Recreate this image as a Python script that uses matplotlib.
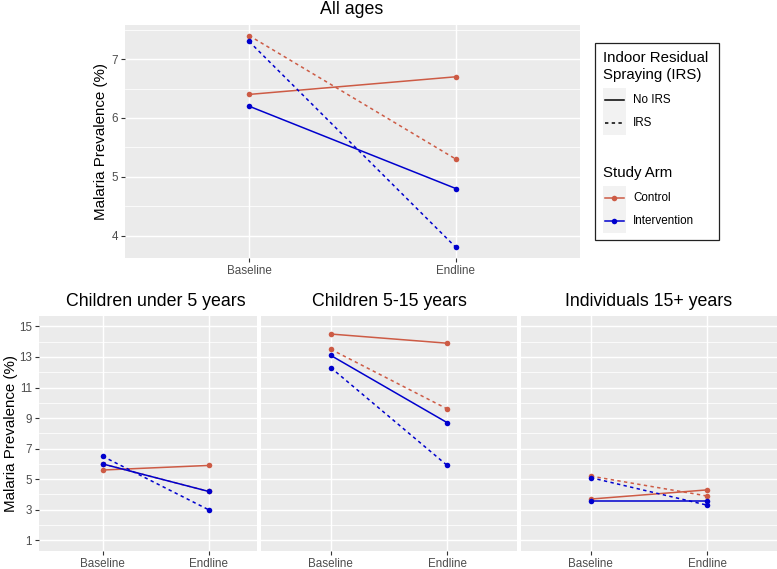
import matplotlib
matplotlib.use("Agg")
import matplotlib.pyplot as plt
from matplotlib.lines import Line2D
from matplotlib.patches import Rectangle

plt.rcParams['font.family'] = ['Liberation Sans', 'DejaVu Sans']

# ---------------- data ----------------
panel_titles = ["All ages", "Children under 5 years", "Children 5-15 years", "Individuals 15+ years"]
timepoints = ["Baseline", "Endline"]
arms = ["Control", "Intervention"]
irs_labels = ["No IRS", "IRS"]

control_no_irs = [[6.4, 6.7], [5.6, 5.9], [14.5, 13.9], [3.7, 4.3]]
control_irs = [[7.4, 5.3], [6.0, 4.2], [13.5, 9.6], [5.2, 3.9]]
intervention_no_irs = [[6.2, 4.8], [6.0, 4.2], [13.1, 8.7], [3.6, 3.6]]
intervention_irs = [[7.3, 3.8], [6.5, 3.0], [12.3, 5.9], [5.1, 3.3]]

top_yticks = [4, 5, 6, 7]
bottom_yticks = [1, 3, 5, 7, 9, 11, 13, 15]

# ---------------- style ----------------
W, H = 777, 569
DPI = 100
col_control = '#CD5B45'
col_interv = '#0000CD'
panel_bg = '#EBEBEB'
tick_col = '#4D4D4D'
LW = 1.1
MS = 4.0
DASH = (0, (2.2, 2.2))

series = [
    (control_no_irs, col_control, '-'),
    (control_irs, col_control, DASH),
    (intervention_no_irs, col_interv, '-'),
    (intervention_irs, col_interv, DASH),
]

fig = plt.figure(figsize=(W / DPI, H / DPI), dpi=DPI)


def px_axes(left, top, right, bottom):
    return fig.add_axes([left / W, 1 - bottom / H, (right - left) / W, (bottom - top) / H])


def style_axes(ax, yticks, minor, show_y=True):
    ax.set_facecolor(panel_bg)
    for s in ax.spines.values():
        s.set_visible(False)
    ax.set_yticks(yticks)
    ax.set_yticks(minor, minor=True)
    ax.set_xticks([0, 1])
    ax.set_xticklabels(timepoints)
    ax.grid(True, which='major', color='white', linewidth=1.07)
    ax.grid(True, which='minor', axis='y', color='white', linewidth=0.55)
    ax.set_axisbelow(True)
    ax.tick_params(axis='both', which='major', length=2.75, width=0.8, color='#333333',
                   labelcolor=tick_col, labelsize=8.4, pad=2.2)
    ax.tick_params(axis='y', which='minor', length=0)
    if not show_y:
        ax.tick_params(axis='y', which='major', length=0, labelleft=False)


def draw(ax, idx):
    x = list(range(len(timepoints)))
    for vals, c, ls in series:
        ax.plot(x, vals[idx], color=c, linestyle=ls, linewidth=LW, zorder=3)
    for vals, c, ls in series:
        ax.plot(x, vals[idx], color=c, linestyle='none', marker='o', markersize=MS,
                markeredgewidth=0, zorder=4)


# ---------------- top panel ----------------
ax0 = px_axes(125, 25, 580, 258)
draw(ax0, 0)
ax0.set_xlim(-0.6, 1.6)
ax0.set_ylim(3.62, 7.58)
style_axes(ax0, top_yticks, [4.5, 5.5, 6.5, 7.5])
ax0.set_ylabel("Malaria Prevalence (%)", fontsize=10.9, color='black')
ax0.yaxis.set_label_coords((107.5 - 125) / 455.0, 0.5)
fig.text(352 / W, 1 - 13.5 / H, panel_titles[0], ha='center', va='baseline', fontsize=12.8)

# ---------------- bottom panels ----------------
bottom_boxes = [(39, 257, 156), (261, 517, 389), (521, 777, 649)]
for i, (l, r, cx) in enumerate(bottom_boxes):
    ax = px_axes(l, 315.7, r, 551)
    draw(ax, i + 1)
    if i == 0:
        ax.set_xlim(-0.6, -0.6 + (r - l) / 106.0)
    else:
        ax.set_xlim(-0.6, 1.6)
    ax.set_ylim(0.3, 15.7)
    style_axes(ax, bottom_yticks, [2, 4, 6, 8, 10, 12, 14], show_y=(i == 0))
    if i == 0:
        ax.set_ylabel("Malaria Prevalence (%)", fontsize=10.9, color='black')
        ax.yaxis.set_label_coords((18.5 - l) / (r - l), 0.5)
    fig.text(cx / W, 1 - 305.5 / H, panel_titles[i + 1], ha='center', va='baseline', fontsize=12.8)

# ---------------- legend (drawn in pixel space) ----------------
lax = fig.add_axes([0, 0, 1, 1], zorder=10)
lax.set_xlim(0, W)
lax.set_ylim(H, 0)
lax.axis('off')
lax.add_patch(Rectangle((595, 43.3), 124.3, 196.7, facecolor='white', edgecolor='#222222', linewidth=0.9))

kx0, kx1 = 602.7, 625.7
lax.text(kx0, 58.3, "Indoor Residual", fontsize=10.8, va='center', ha='left')
lax.text(kx0, 75.0, "Spraying (IRS)", fontsize=10.8, va='center', ha='left')
irs_styles = ['-', DASH]
for j, (lab, ls) in enumerate(zip(irs_labels, irs_styles)):
    yc = 99.7 + j * 23.4
    lax.add_patch(Rectangle((kx0, yc - 11.7), kx1 - kx0, 23.4, facecolor='#F2F2F2', edgecolor='none'))
    lax.add_line(Line2D([604.5, 624], [yc, yc], color='black', linestyle=ls, linewidth=LW))
    lax.text(633, yc, lab, fontsize=8.4, va='center', ha='left')

lax.text(kx0, 172.7, "Study Arm", fontsize=10.8, va='center', ha='left')
for j, (lab, c) in enumerate(zip(arms, [col_control, col_interv])):
    yc = 197.7 + j * 23.4
    lax.add_patch(Rectangle((kx0, yc - 11.7), kx1 - kx0, 23.4, facecolor='#F2F2F2', edgecolor='none'))
    lax.add_line(Line2D([604.5, 624], [yc, yc], color=c, linewidth=LW))
    lax.add_line(Line2D([614.2], [yc], color=c, marker='o', markersize=MS, markeredgewidth=0))
    lax.text(633, yc, lab, fontsize=8.4, va='center', ha='left')

fig.savefig("out.png", dpi=DPI, facecolor='white')
